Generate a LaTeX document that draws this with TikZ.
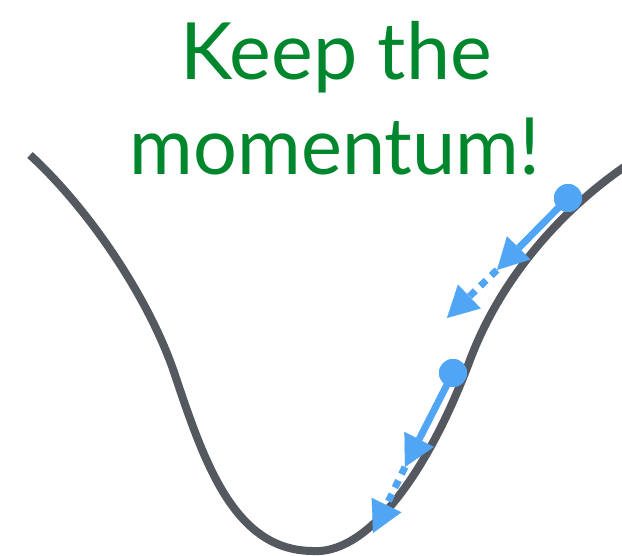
\documentclass[tikz,border=0pt]{standalone}
\usepackage{fontspec}
\setmainfont{Lato}
\usetikzlibrary{arrows.meta}
\definecolor{curvegray}{RGB}{84,88,95}
\definecolor{ballblue}{RGB}{80,166,245}
\definecolor{titlegreen}{RGB}{0,135,45}
\begin{document}
\begin{tikzpicture}[x=1pt,y=-1pt,
  curve/.style={line width=8pt, draw=curvegray, line cap=butt},
  ball/.style={circle, fill=ballblue, minimum size=28pt, inner sep=0pt},
  velo/.style={draw=ballblue, line width=7pt, -{Triangle[length=31pt,width=33pt,line width=0.1pt,fill=ballblue]}},
  momen/.style={draw=ballblue, line width=7pt, dash pattern=on 8pt off 7pt, -{Triangle[length=31pt,width=33pt,line width=0.1pt,fill=ballblue]}},
  title/.style={text=titlegreen, font=\fontsize{79}{95}\selectfont, anchor=base, inner sep=0pt}]
\useasboundingbox (0,0) rectangle (622,556);
% title
\node[title] (t1) at (336,80) {Keep the};
\node[title, xscale=0.98] (t2) at (335,175) {momentum!};
% curve
\draw[curve] (30,155) .. controls (90,210) and (150,300) .. (175,375)
  .. controls (205,465) and (235,550) .. (312,551)
  .. controls (365,555) and (425,480) .. (470,360)
  .. controls (500,280) and (560,210) .. (630,163);
% balls and arrows
\coordinate (h1a) at (497,270);
\coordinate (h1b) at (447,318);
\coordinate (h2a) at (405,467);
\coordinate (h2b) at (373,533);
\node[ball] (b1) at (568,198) {};
\node[ball] (b2) at (453,373) {};
\draw[momen] (h1a) -- (h1b);
\draw[momen] (h2a) -- (h2b);
\draw[velo] (b1.center) -- (h1a);
\draw[velo] (b2.center) -- (h2a);
\node[ball] at (b1) {};
\node[ball] at (b2) {};
\end{tikzpicture}
\end{document}
